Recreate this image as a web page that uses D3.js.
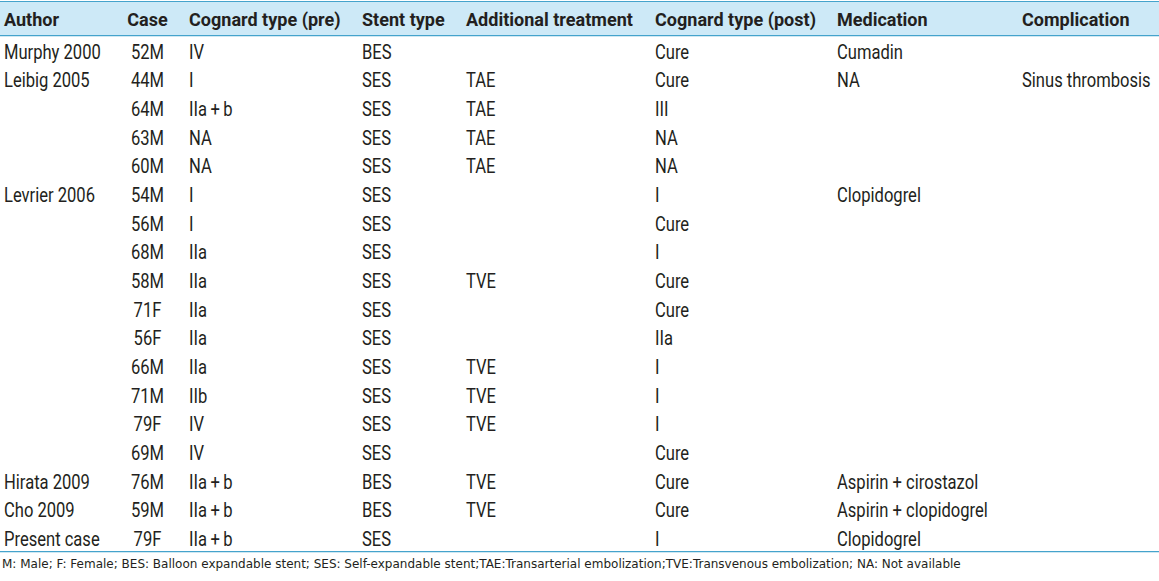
<!DOCTYPE html>
<html><head><meta charset="utf-8">
<script src="https://cdn.jsdelivr.net/npm/d3@7/dist/d3.min.js"></script>
<style>
html,body{margin:0;padding:0;background:#fff;}
svg{display:block;}
</style></head>
<body>
<svg id="c" width="1159" height="581"></svg>
<script>
const headers = ["Author","Case","Cognard type (pre)","Stent type","Additional treatment","Cognard type (post)","Medication","Complication"];
const authors = ["Murphy 2000","Leibig 2005","","","","Levrier 2006","","","","","","","","","","Hirata 2009","Cho 2009","Present case"];
const cases = ["52M","44M","64M","63M","60M","54M","56M","68M","58M","71F","56F","66M","71M","79F","69M","76M","59M","79F"];
const cognardPre = ["IV","I","IIa\u2009+\u2009b","NA","NA","I","I","IIa","IIa","IIa","IIa","IIa","IIb","IV","IV","IIa\u2009+\u2009b","IIa\u2009+\u2009b","IIa\u2009+\u2009b"];
const stentType = ["BES","SES","SES","SES","SES","SES","SES","SES","SES","SES","SES","SES","SES","SES","SES","BES","BES","SES"];
const additional = ["","TAE","TAE","TAE","TAE","","","","TVE","","","TVE","TVE","TVE","","TVE","TVE",""];
const cognardPost = ["Cure","Cure","III","NA","NA","I","Cure","I","Cure","Cure","IIa","I","I","I","Cure","Cure","Cure","I"];
const medication = ["Cumadin","NA","","","","Clopidogrel","","","","","","","","","","Aspirin + cirostazol","Aspirin + clopidogrel","Clopidogrel"];
const complication = ["","Sinus thrombosis","","","","","","","","","","","","","","","",""];
const footnote = "M: Male; F: Female; BES: Balloon expandable stent; SES: Self-expandable stent;TAE:Transarterial embolization;TVE:Transvenous embolization; NA: Not available";

const columns = [authors, cases, cognardPre, stentType, additional, cognardPost, medication, complication];

const W = 1159;
const svg = d3.select("#c");
const font = "Roboto,'Liberation Sans',sans-serif";
const textColor = "#231f20";
const lineColor = "#45a3cc";
const condense = 0.85;

const colX = d3.scaleOrdinal().domain(d3.range(headers.length))
  .range([4, 147.5, 189, 362, 466, 655, 837, 1022]);
const colAnchor = i => i === 1 ? "middle" : "start";

const rowY = d3.scaleBand().domain(d3.range(authors.length)).range([37, 553]);

// header band and rules
svg.append("rect").attr("x",0).attr("y",2).attr("width",W).attr("height",33.5).attr("fill","#cde9f7");
svg.append("line").attr("x1",0).attr("x2",W).attr("y1",1.5).attr("y2",1.5).attr("stroke",lineColor).attr("stroke-width",1.2);
svg.append("line").attr("x1",0).attr("x2",W).attr("y1",35.7).attr("y2",35.7).attr("stroke",lineColor).attr("stroke-width",1.2);
svg.append("line").attr("x1",0).attr("x2",W).attr("y1",551.7).attr("y2",551.7).attr("stroke",lineColor).attr("stroke-width",1.2);

svg.append("g").selectAll("text").data(headers).join("text")
  .attr("transform",(d,i)=>`translate(${colX(i)},26) scale(0.97,1)`)
  .attr("text-anchor",(d,i)=>colAnchor(i))
  .attr("font-family",font).attr("font-weight","bold").attr("font-size",18.6)
  .attr("fill",textColor).text(d=>d);

const g = svg.append("g");
columns.forEach((col,ci)=>{
  g.append("g").selectAll("text").data(col).join("text")
    .attr("transform",(d,ri)=>`translate(${colX(ci)},${rowY(ri)+rowY.bandwidth()/2+7.2}) scale(${condense},1)`)
    .attr("text-anchor",colAnchor(ci))
    .attr("font-family",font).attr("font-size",19.5)
    .attr("fill",textColor).text(d=>d);
});

svg.append("text").attr("x",2).attr("y",567.5)
  .attr("font-family","'DejaVu Sans',sans-serif").attr("font-size",12)
  .attr("fill",textColor).text(footnote);
</script>
</body></html>
